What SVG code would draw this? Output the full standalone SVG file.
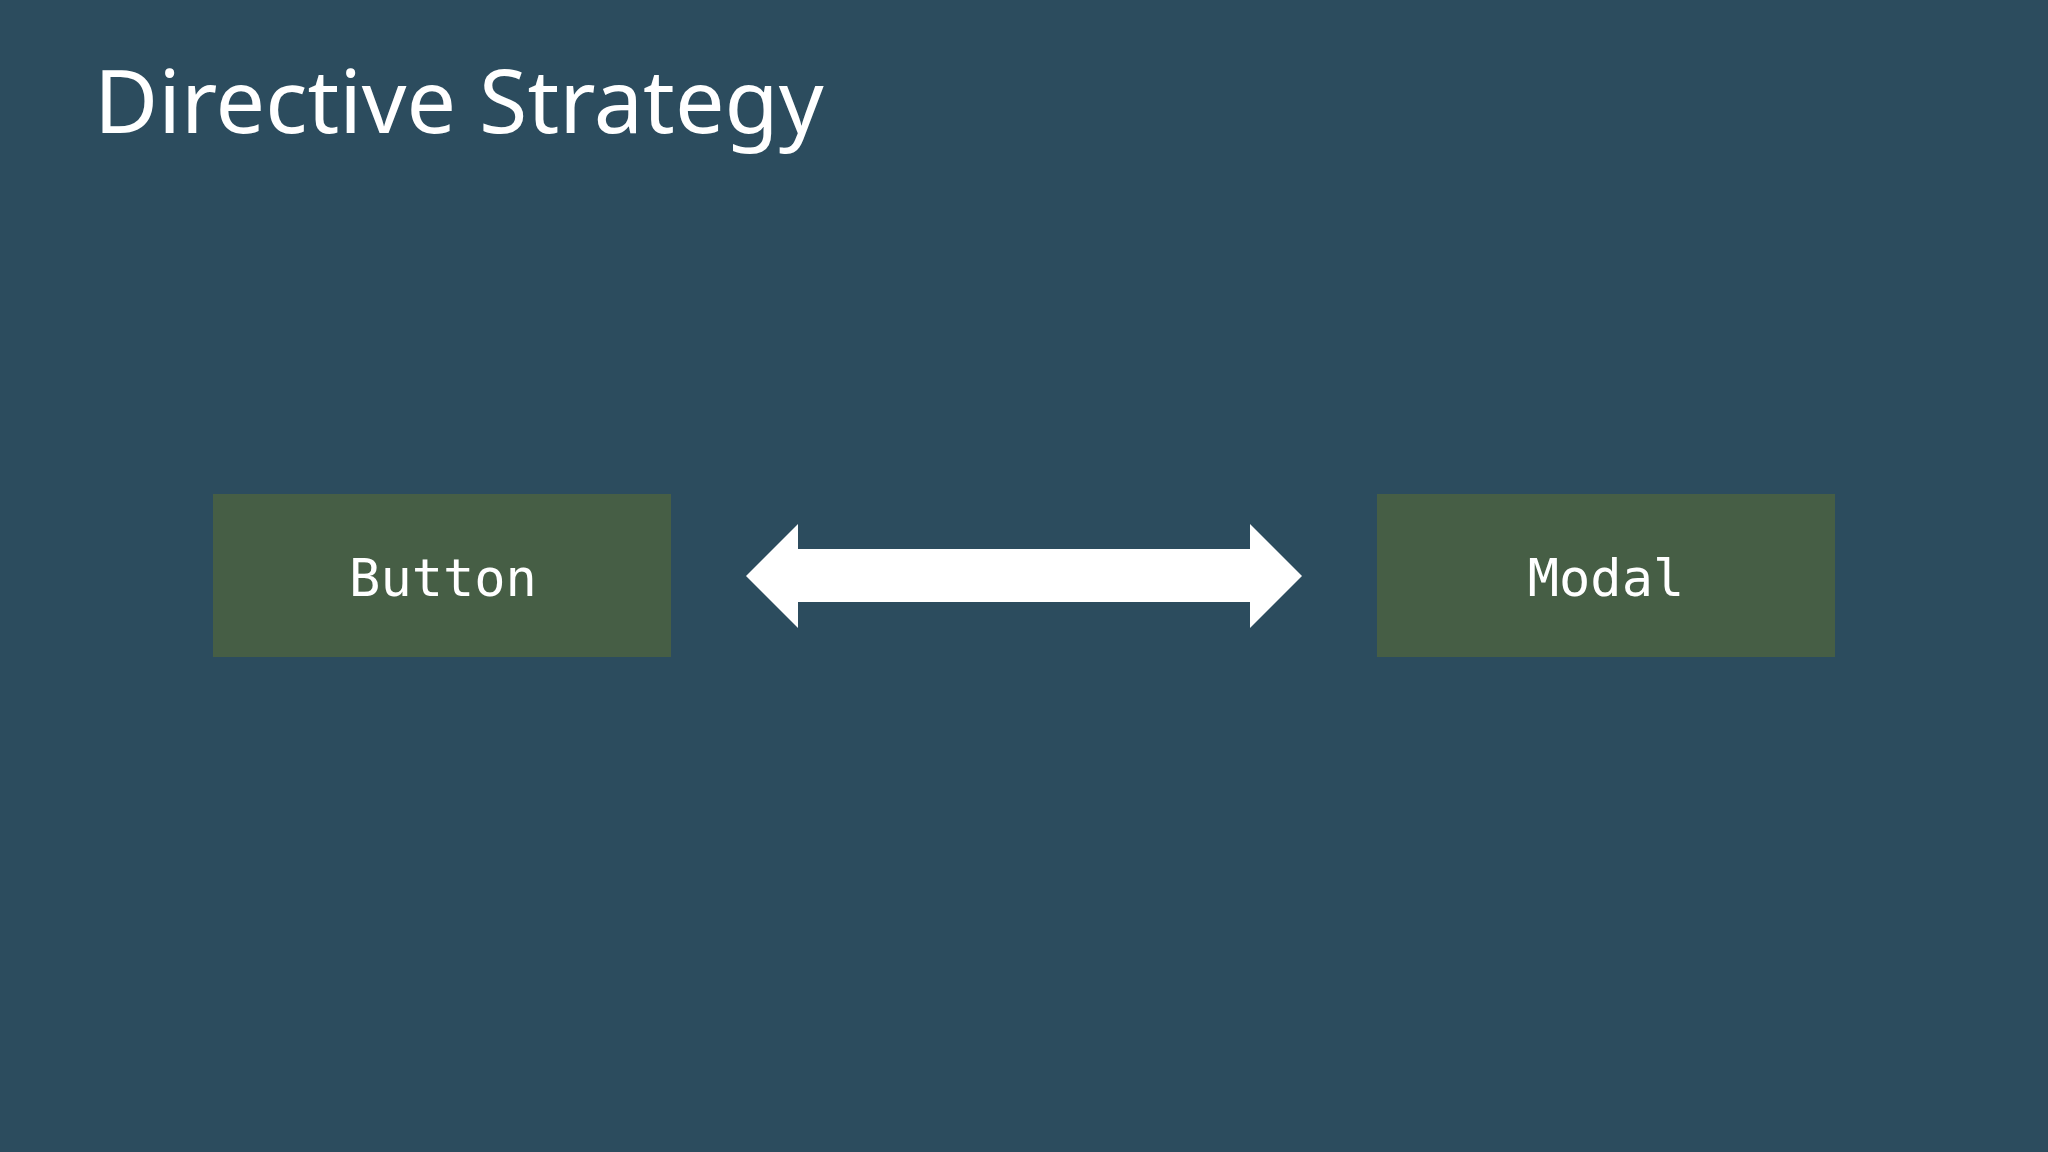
<svg xmlns="http://www.w3.org/2000/svg" width="2048" height="1152" viewBox="0 0 2048 1152">
<style>
.box{fill:#465e45}
.lbl{font-family:"DejaVu Sans Mono","Liberation Mono",monospace;font-size:52px;fill:#ffffff;text-anchor:middle}
</style>
<rect width="2048" height="1152" fill="#2c4c5e"/>
<text x="94" y="133" font-family="'Noto Sans','Open Sans',sans-serif" font-size="88" fill="#ffffff">Directive Strategy</text>
<g id="button"><rect class="box" x="213" y="494" width="458" height="163"/><text class="lbl" x="443" y="596">Button</text></g>
<g id="modal"><rect class="box" x="1377" y="494" width="458" height="163"/><text class="lbl" x="1606" y="596">Modal</text></g>
<g id="connectors"><polygon fill="#ffffff" points="746,576 798,524 798,549 1250,549 1250,524 1302,576 1250,628 1250,602 798,602 798,628"/></g>
</svg>
